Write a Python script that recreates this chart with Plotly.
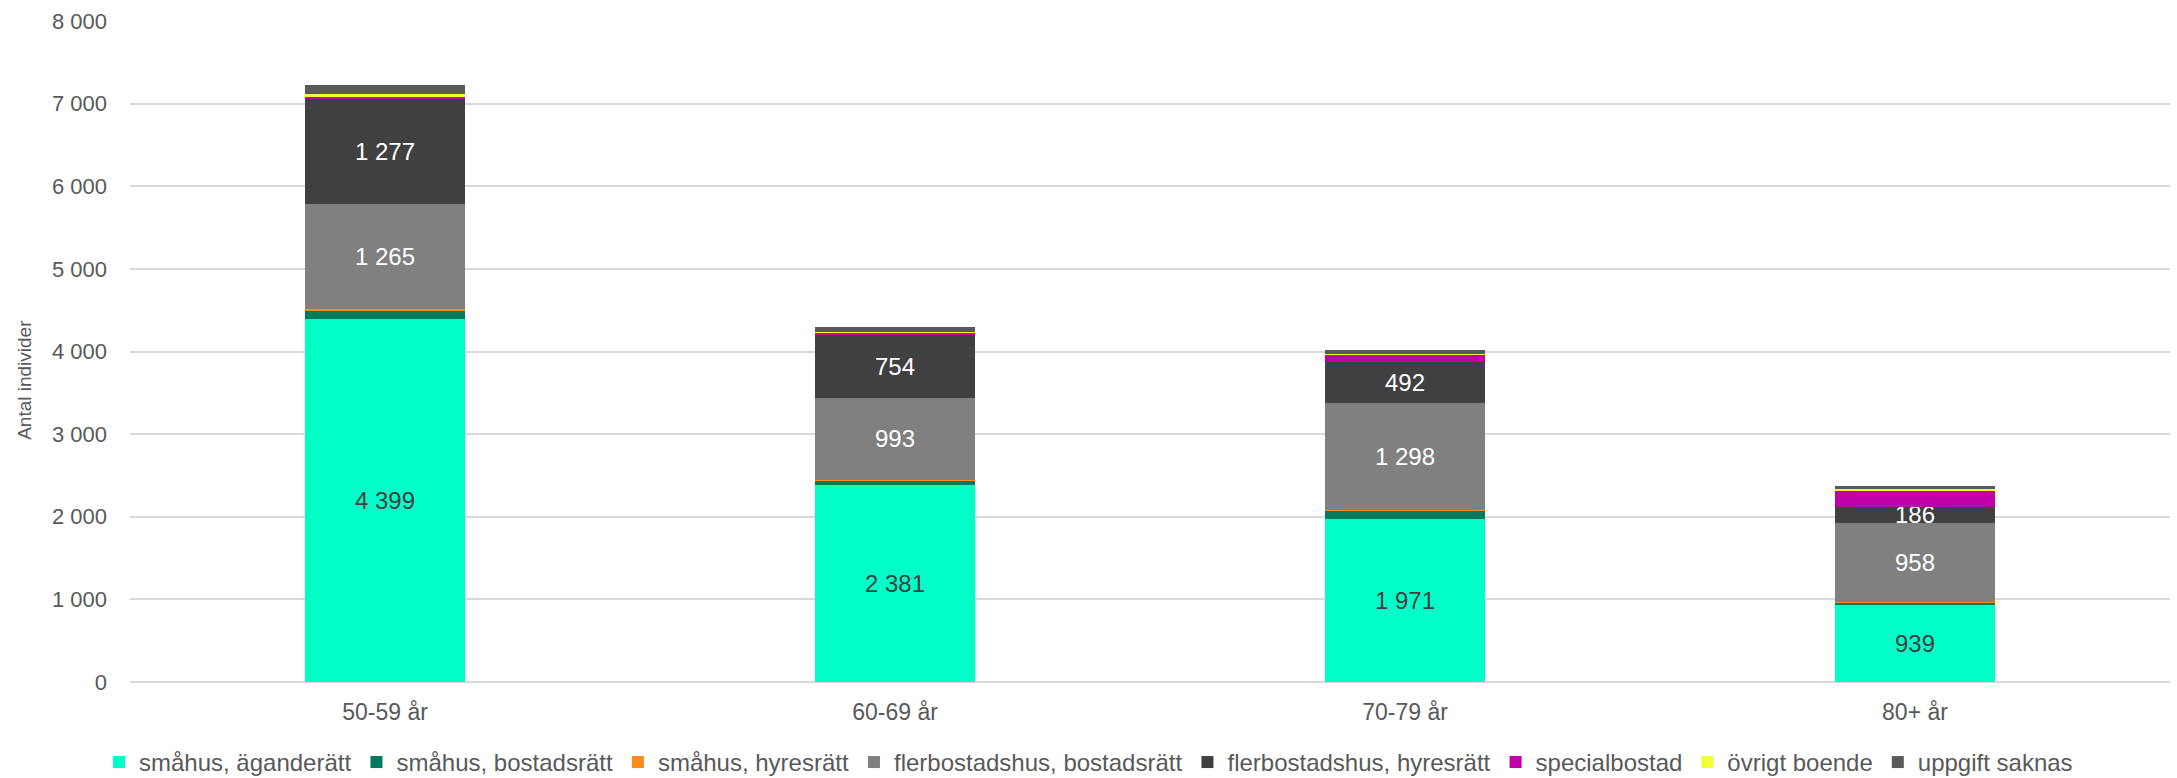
import plotly.graph_objects as go

# Age groups on the x axis
categories = ["50-59 år", "60-69 år", "70-79 år", "80+ år"]

# Number of individuals per housing type and age group
smahus_agande = [4399, 2381, 1971, 939]
smahus_bostadsratt = [97, 55, 100, 24]
smahus_hyresratt = [22, 14, 12, 8]
fler_bostadsratt = [1265, 993, 1298, 958]
fler_hyresratt = [1277, 754, 492, 186]
specialbostad = [28, 29, 90, 197]
ovrigt_boende = [24, 16, 12, 20]
uppgift_saknas = [115, 52, 40, 44]

series = [
    ("småhus, äganderätt", smahus_agande, "#00FFC8", True, "#404040"),
    ("småhus, bostadsrätt", smahus_bostadsratt, "#007A5E", False, None),
    ("småhus, hyresrätt", smahus_hyresratt, "#FF8A1F", False, None),
    ("flerbostadshus, bostadsrätt", fler_bostadsratt, "#808080", True, "#FFFFFF"),
    ("flerbostadshus, hyresrätt", fler_hyresratt, "#404040", True, "#FFFFFF"),
    ("specialbostad", specialbostad, "#C000A8", False, None),
    ("övrigt boende", ovrigt_boende, "#EEFF33", False, None),
    ("uppgift saknas", uppgift_saknas, "#595959", False, None),
]

FONT = "Liberation Sans, Arial, sans-serif"
TEXT_COLOR = "#595959"

fig = go.Figure()
for name, values, color, labelled, label_color in series:
    kw = {}
    if labelled:
        kw = dict(
            texttemplate="%{y:,d}",
            textposition="inside",
            insidetextanchor="middle",
            textangle=0,
            textfont=dict(family=FONT, size=24, color=label_color),
        )
    fig.add_trace(go.Bar(
        name=name,
        x=categories,
        y=values,
        marker=dict(color=color, line=dict(width=0)),
        hoverinfo="name+y",
        **kw,
    ))

# Vertical axis title, placed a little below the plot's vertical centre
fig.add_annotation(
    text="Antal individer",
    xref="paper", yref="paper",
    x=-0.0515, y=0.457,
    xanchor="center", yanchor="middle",
    textangle=-90,
    showarrow=False,
    font=dict(family=FONT, size=19, color=TEXT_COLOR),
)

fig.update_layout(
    barmode="stack",
    bargap=0.686,
    width=2177,
    height=778,
    paper_bgcolor="white",
    plot_bgcolor="white",
    separators=", ",
    font=dict(family=FONT, size=22, color=TEXT_COLOR),
    margin=dict(l=130, r=7, t=21, b=96),
    uniformtext=dict(minsize=24, mode="show"),
    legend=dict(
        orientation="h",
        xref="container",
        yref="container",
        x=0.5,
        xanchor="center",
        y=0.02,
        yanchor="middle",
        font=dict(family=FONT, size=24, color=TEXT_COLOR),
        traceorder="normal",
        itemwidth=30,
    ),
    xaxis=dict(
        showgrid=False,
        showline=False,
        ticks="",
        ticklabelstandoff=14,
        tickfont=dict(family=FONT, size=23, color=TEXT_COLOR),
    ),
    yaxis=dict(
        range=[0, 8000],
        dtick=1000,
        tickformat=",d",
        showgrid=True,
        gridcolor="#D9D9D9",
        gridwidth=1.5,
        zeroline=True,
        zerolinecolor="#D9D9D9",
        zerolinewidth=1.5,
        ticks="",
        ticklabelstandoff=22,
        tickfont=dict(family=FONT, size=22, color=TEXT_COLOR),
    ),
)

fig.write_html("out.html")
